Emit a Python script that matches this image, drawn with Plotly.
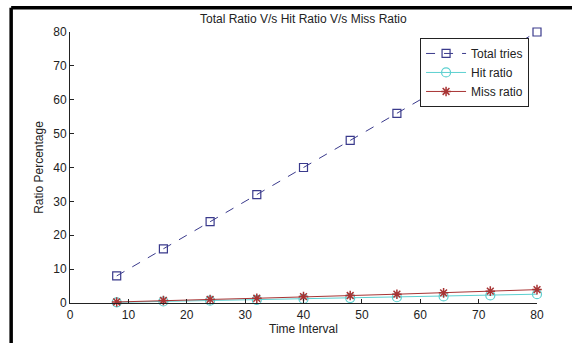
import plotly.graph_objects as go

time_interval = [8, 16, 24, 32, 40, 48, 56, 64, 72, 80]
total_tries = [8, 16, 24, 32, 40, 48, 56, 64, 72, 80]
hit_ratio = [0.2, 0.45, 0.7, 0.9, 1.2, 1.45, 1.7, 1.95, 2.25, 2.6]
miss_ratio = [0.3, 0.75, 1.05, 1.4, 1.9, 2.2, 2.6, 3.0, 3.5, 3.95]
x_ticks = [0, 10, 20, 30, 40, 50, 60, 70, 80]
y_ticks = [0, 10, 20, 30, 40, 50, 60, 70, 80]

font = "Liberation Sans, Arial, sans-serif"
txt = "#222"

fig = go.Figure()
fig.add_trace(go.Scatter(
    x=time_interval, y=total_tries, name="Total tries", mode="lines+markers",
    line=dict(color="#3a3a8c", width=1, dash="dash"),
    marker=dict(symbol="square-open", size=8, color="#3a3a8c", line=dict(width=1.2)),
    cliponaxis=False))
fig.add_trace(go.Scatter(
    x=time_interval, y=hit_ratio, name="Hit ratio", mode="lines+markers",
    line=dict(color="#5cd0d0", width=1),
    marker=dict(symbol="circle-open", size=9, color="#5cd0d0", line=dict(width=1.2)),
    cliponaxis=False))
fig.add_trace(go.Scatter(
    x=time_interval, y=miss_ratio, name="Miss ratio", mode="lines+markers",
    line=dict(color="#a83434", width=1),
    marker=dict(symbol="asterisk-open", size=8, color="#a83434", line=dict(width=1.5, color="#a83434")),
    cliponaxis=False))

axis_common = dict(
    showgrid=False, zeroline=False, showline=True, linecolor=txt, linewidth=1,
    ticks="inside", ticklen=4, tickcolor=txt, mirror=False,
    tickfont=dict(family=font, size=12, color=txt),
)

fig.update_layout(
    width=572, height=343,
    margin=dict(l=70, r=35, t=32, b=32),
    paper_bgcolor="white", plot_bgcolor="white",
    title=dict(text="Total Ratio V/s Hit Ratio V/s Miss Ratio", x=0.5303, xanchor="center",
               y=0.945, yanchor="middle", font=dict(family=font, size=12, color=txt)),
    xaxis=dict(range=[0, 80], tickvals=x_ticks, ticklabelstandoff=1, **axis_common,
               title=dict(text="Time Interval", font=dict(family=font, size=12, color=txt), standoff=0)),
    yaxis=dict(range=[0, 80], tickvals=y_ticks, **axis_common,
               title=dict(text="Ratio Percentage", font=dict(family=font, size=12, color=txt), standoff=7)),
    legend=dict(x=0.983, y=0.978, xanchor="right", yanchor="top",
                bgcolor="white", bordercolor=txt, borderwidth=1,
                font=dict(family=font, size=12, color=txt),
                tracegroupgap=0, itemwidth=40),
    showlegend=True,
    shapes=[
        dict(type="line", xref="paper", yref="paper", x0=-0.126, x1=1.1, y0=1.0896, y1=1.0896,
             line=dict(color="black", width=3.5)),
        dict(type="line", xref="paper", yref="paper", x0=-0.126, x1=-0.126, y0=1.0896, y1=-0.2,
             line=dict(color="black", width=3.5)),
    ],
)

fig.write_html("out.html")
